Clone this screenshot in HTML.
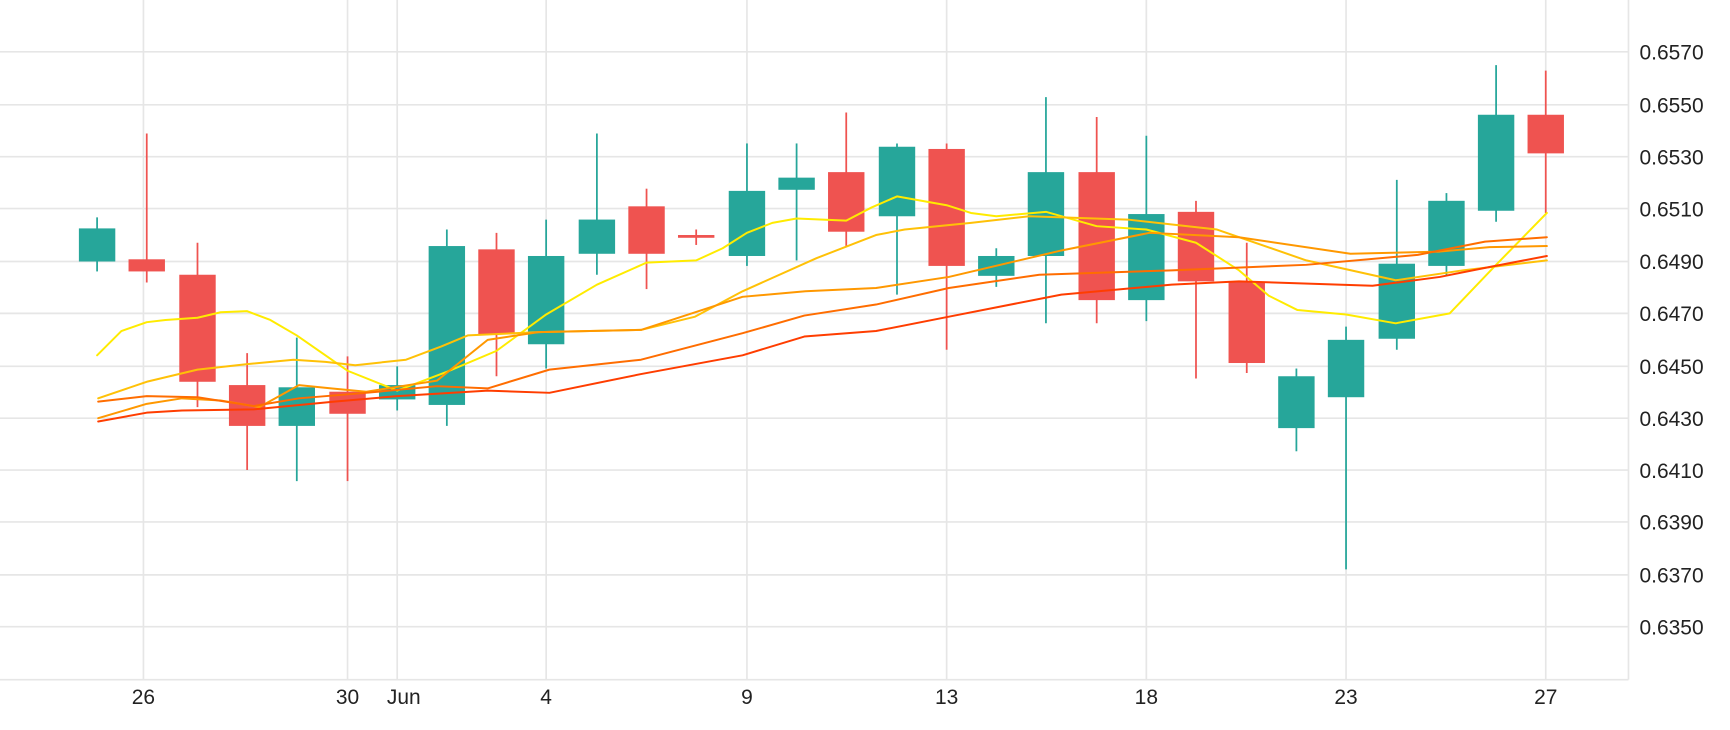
<!DOCTYPE html>
<html><head><meta charset="utf-8"><style>
html,body{margin:0;padding:0;background:#fff;}
svg{display:block;}
text{font-family:"Liberation Sans",sans-serif;fill:#222;}
</style></head><body>
<svg width="1730" height="730" viewBox="0 0 1568 661.6" preserveAspectRatio="none" xmlns="http://www.w3.org/2000/svg">
<g stroke="#e6e6e6" stroke-width="1.5">
<line x1="0" x2="1476" y1="47" y2="47"/><line x1="0" x2="1476" y1="95" y2="95"/><line x1="0" x2="1476" y1="142" y2="142"/><line x1="0" x2="1476" y1="189" y2="189"/><line x1="0" x2="1476" y1="237" y2="237"/><line x1="0" x2="1476" y1="284" y2="284"/><line x1="0" x2="1476" y1="332" y2="332"/><line x1="0" x2="1476" y1="379" y2="379"/><line x1="0" x2="1476" y1="426" y2="426"/><line x1="0" x2="1476" y1="473" y2="473"/><line x1="0" x2="1476" y1="521" y2="521"/><line x1="0" x2="1476" y1="568" y2="568"/>
<line x1="0" x2="1476" y1="616" y2="616"/>
<line x1="1476" x2="1476" y1="0" y2="616"/>
<line x1="130" x2="130" y1="0" y2="616"/><line x1="315" x2="315" y1="0" y2="616"/><line x1="360" x2="360" y1="0" y2="616"/><line x1="495" x2="495" y1="0" y2="616"/><line x1="677" x2="677" y1="0" y2="616"/><line x1="858" x2="858" y1="0" y2="616"/><line x1="1039" x2="1039" y1="0" y2="616"/><line x1="1220" x2="1220" y1="0" y2="616"/><line x1="1401" x2="1401" y1="0" y2="616"/>
</g>
<g font-size="19">
<text x="1486" y="54">0.6570</text><text x="1486" y="102">0.6550</text><text x="1486" y="149">0.6530</text><text x="1486" y="196">0.6510</text><text x="1486" y="244">0.6490</text><text x="1486" y="291">0.6470</text><text x="1486" y="339">0.6450</text><text x="1486" y="386">0.6430</text><text x="1486" y="433">0.6410</text><text x="1486" y="480">0.6390</text><text x="1486" y="528">0.6370</text><text x="1486" y="575">0.6350</text>
</g>
<g font-size="19" text-anchor="middle">
<text x="130" y="638">26</text><text x="315" y="638">30</text><text x="366" y="638">Jun</text><text x="495" y="638">4</text><text x="677" y="638">9</text><text x="858" y="638">13</text><text x="1039" y="638">18</text><text x="1220" y="638">23</text><text x="1401" y="638">27</text>
</g>
<g stroke-width="1.6">
<g stroke="#26a69a">
<line x1="88" x2="88" y1="197" y2="246"/><line x1="269" x2="269" y1="306" y2="436"/><line x1="360" x2="360" y1="332" y2="372"/><line x1="405" x2="405" y1="208" y2="386"/><line x1="495" x2="495" y1="199" y2="334"/><line x1="541" x2="541" y1="121" y2="249"/><line x1="677" x2="677" y1="130" y2="241"/><line x1="722" x2="722" y1="130" y2="236"/><line x1="813" x2="813" y1="130" y2="267"/><line x1="903" x2="903" y1="225" y2="260"/><line x1="948" x2="948" y1="88" y2="293"/><line x1="1039" x2="1039" y1="123" y2="291"/><line x1="1175" x2="1175" y1="334" y2="409"/><line x1="1220" x2="1220" y1="296" y2="516"/><line x1="1266" x2="1266" y1="163" y2="317"/><line x1="1311" x2="1311" y1="175" y2="250"/><line x1="1356" x2="1356" y1="59" y2="201"/>
</g>
<g stroke="#ef5350">
<line x1="133" x2="133" y1="121" y2="256"/><line x1="179" x2="179" y1="220" y2="369"/><line x1="224" x2="224" y1="320" y2="426"/><line x1="315" x2="315" y1="323" y2="436"/><line x1="450" x2="450" y1="211" y2="341"/><line x1="586" x2="586" y1="171" y2="262"/><line x1="631" x2="631" y1="208" y2="222"/><line x1="767" x2="767" y1="102" y2="224"/><line x1="858" x2="858" y1="130" y2="317"/><line x1="994" x2="994" y1="106" y2="293"/><line x1="1084" x2="1084" y1="182" y2="343"/><line x1="1130" x2="1130" y1="220" y2="338"/><line x1="1401" x2="1401" y1="64" y2="193"/>
</g>
</g>
<g fill="#26a69a">
<rect x="71.5" y="207" width="33" height="30"/><rect x="252.5" y="351" width="33" height="35"/><rect x="343.5" y="349" width="33" height="13"/><rect x="388.5" y="223" width="33" height="144"/><rect x="478.5" y="232" width="33" height="80"/><rect x="524.5" y="199" width="33" height="31"/><rect x="660.5" y="173" width="33" height="59"/><rect x="705.5" y="161" width="33" height="11"/><rect x="796.5" y="133" width="33" height="63"/><rect x="886.5" y="232" width="33" height="18"/><rect x="931.5" y="156" width="33" height="76"/><rect x="1022.5" y="194" width="33" height="78"/><rect x="1158.5" y="341" width="33" height="47"/><rect x="1203.5" y="308" width="33" height="52"/><rect x="1249.5" y="239" width="33" height="68"/><rect x="1294.5" y="182" width="33" height="59"/><rect x="1339.5" y="104" width="33" height="87"/>
</g>
<g fill="#ef5350">
<rect x="116.5" y="235" width="33" height="11"/><rect x="162.5" y="249" width="33" height="97"/><rect x="207.5" y="349" width="33" height="37"/><rect x="298.5" y="355" width="33" height="20"/><rect x="433.5" y="226" width="33" height="77"/><rect x="569.5" y="187" width="33" height="43"/><rect x="614.5" y="213" width="33" height="2.5"/><rect x="750.5" y="156" width="33" height="54"/><rect x="841.5" y="135" width="33" height="106"/><rect x="977.5" y="156" width="33" height="116"/><rect x="1067.5" y="192" width="33" height="63"/><rect x="1113.5" y="256" width="33" height="73"/><rect x="1384.5" y="104" width="33" height="35"/>
</g>
<g fill="none" stroke-width="1.8" stroke-linejoin="round" stroke-linecap="round">
<polyline stroke="#ffeb00" points="88,322 110,300 133,292 150,290 179,288 200,283 224,282 245,290 269,304 315,336 360,354 405,337 450,318 495,285 541,258 586,238 631,236 655,225 677,211 700,202 722,198 767,200 790,188 813,178 858,186 880,193 903,196 948,192 994,205 1039,208 1084,220 1123,245 1150,268 1176,281 1220,285 1265,293 1314,284 1356,240 1402,193"/>
<polyline stroke="#ffc107" points="89,361 133,346 179,335 224,330 266,326 295,328 322,331 368,326 400,314 424,304 488,301 581,299 630,287 673,264 740,234 794,213 820,208 880,202 933,196 1022,199 1103,208 1184,236 1265,254 1326,245 1402,236"/>
<polyline stroke="#ff9800" points="89,379 133,366 165,361 200,363 235,369 271,349 300,352 332,355 396,345 442,308 488,301 581,299 673,269 730,264 794,261 860,251 962,227 1042,211 1123,215 1224,230 1305,228 1350,224 1402,223"/>
<polyline stroke="#ff6d00" points="89,364 133,359 179,360 230,368 271,361 332,356 396,350 442,352 498,335 581,326 673,302 729,286 794,276 860,261 942,249 1062,245 1184,240 1285,231 1346,219 1402,215"/>
<polyline stroke="#ff3d00" points="89,382 133,374 165,372 230,371 303,364 360,359 442,354 498,356 581,339 673,322 729,305 794,300 860,287 962,267 1062,258 1123,255 1244,259 1305,251 1350,242 1402,232"/>
</g>
</svg>
</body></html>
